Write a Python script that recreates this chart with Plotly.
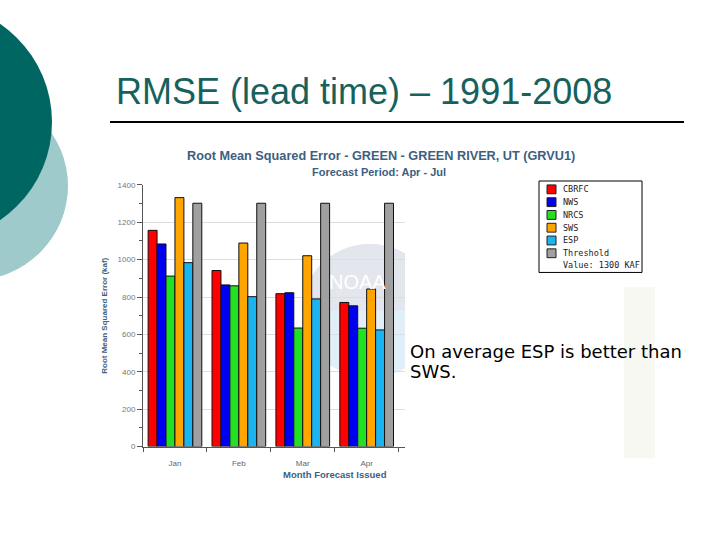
import math
import plotly.graph_objects as go

months = ["Jan", "Feb", "Mar", "Apr"]
series_names = ["CBRFC", "NWS", "NRCS", "SWS", "ESP", "Threshold"]
threshold_note = "Value: 1300 KAF"
cbrfc = [1157, 942, 818, 771]
nws = [1084, 865, 823, 753]
nrcs = [912, 860, 634, 633]
sws = [1332, 1089, 1021, 843]
esp = [984, 802, 790, 624]
threshold = [1302, 1302, 1302, 1302]
series_values = [cbrfc, nws, nrcs, sws, esp, threshold]
colors = ["#ff0000", "#0000f0", "#22e022", "#ffa500", "#1ab4f0", "#a0a0a0"]
y_ticks = [0, 200, 400, 600, 800, 1000, 1200, 1400]

W, H = 720, 540
def px(x):
    return x / W
def py(y):
    return 1 - y / H

fig = go.Figure()
for name, vals, c in zip(series_names, series_values, colors):
    fig.add_trace(go.Bar(x=months, y=vals, name=name, showlegend=False,
                         marker=dict(color=c, line=dict(color="#101010", width=1))))

# watermark upper half-disc outline (decoration)
wcx, wcy, wr = 370, 312, 68
pts = []
for k in range(0, 181, 6):
    a = math.radians(180 + k)
    pts.append((wcx + wr * math.cos(a), wcy + wr * math.sin(a)))
half_path = "M " + " L ".join(f"{px(x):.5f},{py(y):.5f}" for x, y in pts) + " Z"

slate = "#3d5f82"
shapes = [
    # slide decoration circles
    dict(type="circle", xref="paper", yref="paper", layer="below",
         x0=px(-28 - 96), x1=px(-28 + 96), y0=py(185 + 96), y1=py(185 - 96),
         fillcolor="#9ecacb", line=dict(width=0)),
    dict(type="circle", xref="paper", yref="paper", layer="below",
         x0=px(-70 - 122), x1=px(-70 + 122), y0=py(120 + 122), y1=py(120 - 122),
         fillcolor="#006662", line=dict(width=0)),
    # title underline
    dict(type="line", xref="paper", yref="paper", x0=px(110), x1=px(684),
         y0=py(120), y1=py(120), line=dict(color="black", width=2)),
    # faint watermark
    dict(type="circle", xref="paper", yref="paper", layer="below",
         x0=px(wcx - wr), x1=px(wcx + wr), y0=py(wcy + wr), y1=py(wcy - wr),
         fillcolor="#e1eff8", line=dict(width=0)),
    dict(type="path", xref="paper", yref="paper", layer="below", path=half_path,
         fillcolor="#e4e6ee", line=dict(width=0)),
    dict(type="rect", xref="paper", yref="paper", layer="below",
         x0=px(405), x1=px(720), y0=py(500), y1=py(230),
         fillcolor="white", line=dict(width=0)),
    dict(type="rect", xref="paper", yref="paper", layer="below",
         x0=px(624), x1=px(655), y0=py(462), y1=py(288),
         fillcolor="#f6f8f1", line=dict(width=0)),
    # legend box
    dict(type="rect", xref="paper", yref="paper",
         x0=px(539), x1=px(642), y0=py(273), y1=py(180),
         fillcolor="white", line=dict(color="black", width=1)),
]
annotations = [
    dict(text="NOAA", xref="paper", yref="paper", x=px(357), y=py(283),
         xanchor="center", yanchor="middle", showarrow=False,
         font=dict(family="Liberation Sans", size=20, color="white")),
    dict(text="RMSE (lead time) – 1991-2008", xref="paper", yref="paper",
         x=px(114), y=py(89), xanchor="left", yanchor="middle", showarrow=False,
         font=dict(family="Liberation Sans", size=36, color="#17615d")),
    dict(text="<b>Root Mean Squared Error - GREEN - GREEN RIVER, UT (GRVU1)</b>",
         xref="paper", yref="paper", x=px(381), y=py(155), xanchor="center", yanchor="middle",
         showarrow=False, font=dict(family="Liberation Sans", size=12.7, color=slate)),
    dict(text="<b>Forecast Period: Apr - Jul</b>",
         xref="paper", yref="paper", x=px(379), y=py(171), xanchor="center", yanchor="middle",
         showarrow=False, font=dict(family="Liberation Sans", size=11, color=slate)),
    dict(text="<b>Month Forecast Issued</b>",
         xref="paper", yref="paper", x=px(335), y=py(478), xanchor="center", yanchor="middle",
         showarrow=False, font=dict(family="Liberation Sans", size=9.5, color=slate)),
    dict(text="On average ESP is better than",
         xref="paper", yref="paper", x=px(408), y=py(353), xanchor="left", yanchor="middle",
         align="left", showarrow=False,
         font=dict(family="DejaVu Sans", size=18, color="black")),
    dict(text="SWS.",
         xref="paper", yref="paper", x=px(408), y=py(374), xanchor="left", yanchor="middle",
         align="left", showarrow=False,
         font=dict(family="DejaVu Sans", size=18, color="black")),
]
# manual legend entries
leg_font = dict(family="DejaVu Sans Mono", size=8.5, color="#222")
for i, (name, c) in enumerate(zip(series_names, colors)):
    yc = 188.5 + 13 * i
    shapes.append(dict(type="rect", xref="paper", yref="paper",
                       x0=px(547), x1=px(556), y0=py(yc + 4.5), y1=py(yc - 4.5),
                       fillcolor=c, line=dict(color="#222", width=1)))
    annotations.append(dict(text=name, xref="paper", yref="paper", x=px(561), y=py(yc),
                            xanchor="left", yanchor="middle", showarrow=False, font=leg_font))
annotations.append(dict(text=threshold_note, xref="paper", yref="paper", x=px(561),
                        y=py(188.5 + 13 * 6 - 1.5), xanchor="left", yanchor="middle",
                        showarrow=False, font=leg_font))

fig.update_layout(
    width=W, height=H, margin=dict(l=0, r=0, t=0, b=0),
    paper_bgcolor="white", plot_bgcolor="rgba(0,0,0,0)",
    barmode="group", bargap=0.16, bargroupgap=0,
    showlegend=False,
    xaxis=dict(domain=[px(143), px(405)], range=[-0.5, 3.6],
               showline=True, linecolor="#555", linewidth=1,
               ticks="outside", tickson="boundaries", ticklen=4, tickcolor="#555",
               ticklabelstandoff=9,
               tickfont=dict(family="Liberation Sans", size=8, color="#666"),
               showgrid=False),
    yaxis=dict(domain=[py(450), py(184)], range=[0, 1400],
               tickvals=y_ticks, ticktext=[str(v) for v in y_ticks],
               showline=True, linecolor="#555", linewidth=1,
               ticks="outside", ticklen=5, tickcolor="#555",
               minor=dict(dtick=100, ticks="outside", ticklen=3, tickcolor="#555", showgrid=False),
               tickfont=dict(family="Liberation Sans", size=8, color="#777"),
               showgrid=True, gridcolor="#dddddd", gridwidth=1,
               title=dict(text="<b>Root Mean Squared Error (kaf)</b>",
                          font=dict(family="Liberation Sans", size=8, color=slate),
                          standoff=8)),
    shapes=shapes,
    annotations=annotations,
)

fig.write_html("out.html", config={"displayModeBar": False},
               post_script="document.body.style.margin='0';document.body.style.overflow='hidden';")
